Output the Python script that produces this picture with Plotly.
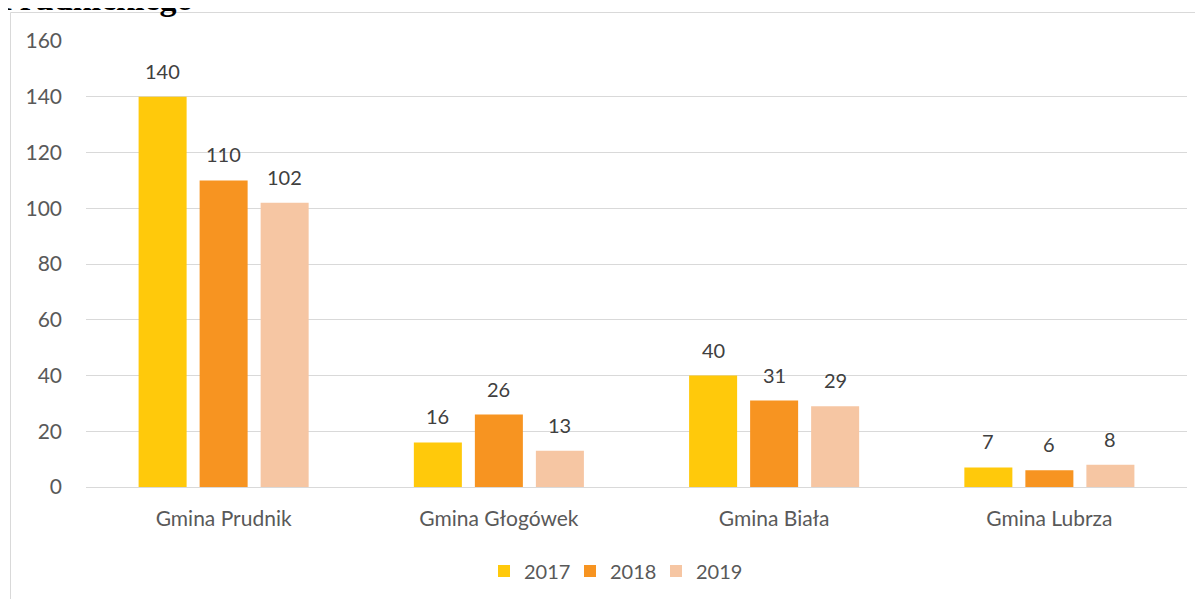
import plotly.graph_objects as go

categories = ["Gmina Prudnik", "Gmina Głogówek", "Gmina Biała", "Gmina Lubrza"]
years = ["2017", "2018", "2019"]
values_2017 = [140, 16, 40, 7]
values_2018 = [110, 26, 31, 6]
values_2019 = [102, 13, 29, 8]
colors = ["#FFC90B", "#F79421", "#F6C6A3"]
series = [values_2017, values_2018, values_2019]

FONT = "Lato"
OFF = 8  # page body margin
W, H = 1203, 599
ML, MT = 86 - OFF, 41 - OFF
MR = W - (1187 - OFF)
MB = H - (487 - OFF)
PW = W - ML - MR
PH = H - MT - MB

def px_x(px):
    return (px - OFF - ML) / PW

def px_y(py):
    return (H - MB - (py - OFF)) / PH

fig = go.Figure()
for name, vals, col in zip(years, series, colors):
    fig.add_trace(go.Bar(x=categories, y=vals, name=name, marker=dict(color=col, line=dict(width=0))))

offsets = [-61, 0, 61]
for vals, off in zip(series, offsets):
    for c, v in zip(categories, vals):
        fig.add_annotation(x=c, y=v, xref="x", yref="y", text=str(v), showarrow=False,
                           xshift=off, yshift=12, yanchor="bottom",
                           font=dict(family=FONT, size=20, color="#404040"))

# partially visible heading above the chart
fig.add_annotation(x=px_x(-3), y=px_y(-2), xref="paper", yref="paper", text="<b>Prudnickiego</b>",
                   showarrow=False, xanchor="left", yanchor="middle",
                   font=dict(family="Liberation Serif", size=34, color="#000000"))

# chart border
fig.add_shape(type="rect", xref="paper", yref="paper",
              x0=px_x(10.5), x1=px_x(1260), y0=px_y(700), y1=px_y(12.5),
              line=dict(color="#D9D9D9", width=1), fillcolor="rgba(0,0,0,0)", layer="below")

fig.update_layout(
    width=W, height=H,
    margin=dict(l=ML, r=MR, t=MT, b=MB),
    paper_bgcolor="white", plot_bgcolor="white",
    barmode="group", bargap=0.335, bargroupgap=0.213,
    font=dict(family=FONT, color="#595959"),
    showlegend=True,
    legend=dict(orientation="h", x=px_x(613), xanchor="center", y=px_y(571), yanchor="middle",
                font=dict(family=FONT, size=20, color="#595959"), traceorder="normal",
                entrywidth=41, entrywidthmode="pixels"),
)
fig.update_yaxes(range=[0, 160], dtick=20, showgrid=True, gridcolor="#D9D9D9", gridwidth=1,
                 zeroline=True, zerolinecolor="#D9D9D9", zerolinewidth=1, showline=False,
                 ticks="", tickfont=dict(family=FONT, size=21, color="#595959"), ticklabelstandoff=23)
fig.update_xaxes(showline=False, ticks="", showgrid=False,
                 tickfont=dict(family=FONT, size=21, color="#595959"), ticklabelstandoff=17)

fig.write_html("out.html")
